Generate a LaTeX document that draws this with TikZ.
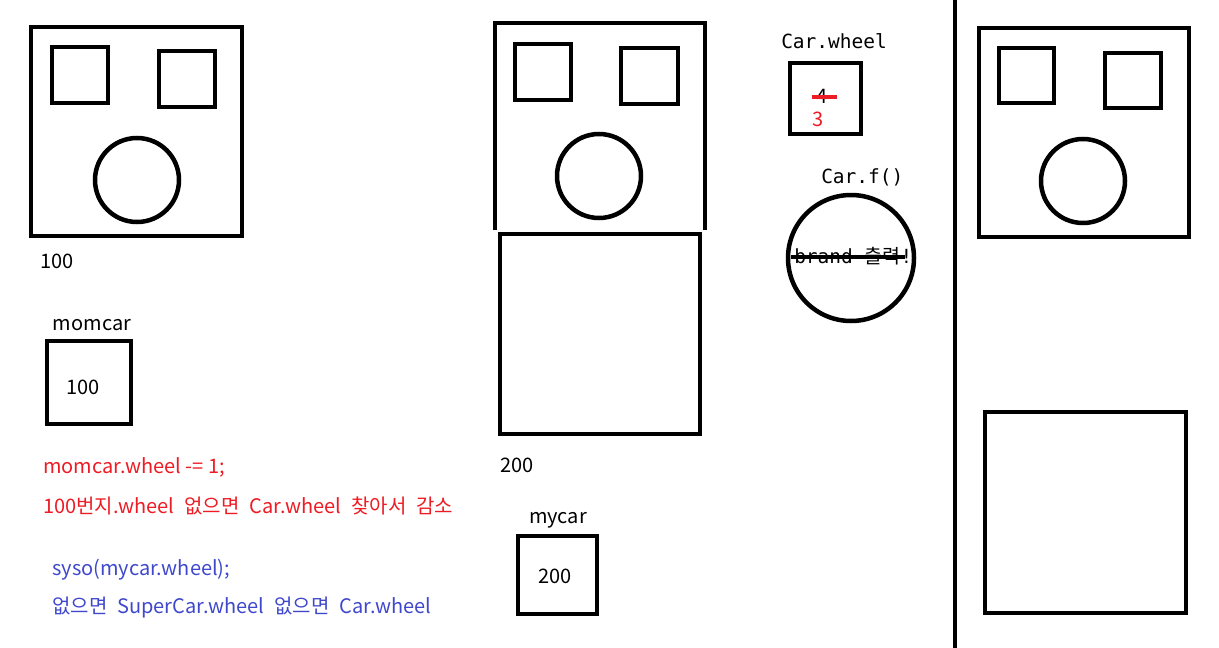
\documentclass[tikz,border=0pt]{standalone}
\usepackage{fontspec}
\setmainfont{Noto Sans CJK KR}
\newfontfamily\monofont{DejaVu Sans Mono}
\definecolor{pred}{RGB}{237,28,36}
\definecolor{pblue}{RGB}{63,72,204}

\begin{document}
\begin{tikzpicture}[x=1pt,y=-1pt,line width=4.5pt,
  every node/.style={inner sep=0pt,font=\fontsize{20}{24}\selectfont},
  mono/.style={font=\monofont\fontsize{19.5}{24}\selectfont},
  wide/.style={font={\fontsize{20}{24}\selectfont\spaceskip=0.5em\relax}}]
\useasboundingbox (0,0) rectangle (1219,648);

% car at 100
\draw (31,27) rectangle (242,236);
\draw (52,47) rectangle (108,103);
\draw (159,51) rectangle (215,107);
\draw (137,180) circle[radius=42pt];
\node[anchor=base west] (adr100) at (38,268) {100};

\node[anchor=base] (momcar) at (92,330) {momcar};
\draw (47,341) rectangle (131,424);
\node[anchor=base] (momval) at (83,394) {100};

\node[anchor=base west,text=pred] (red1) at (41,473) {momcar.wheel -= 1;};
\node[wide,anchor=base west,text=pred] (red2) at (41,513) {100번지.wheel 없으면 Car.wheel 찾아서 감소};
\node[anchor=base west,text=pblue] (blue1) at (50,575) {syso(mycar.wheel);};
\node[wide,anchor=base west,text=pblue] (blue2) at (50,613) {없으면 SuperCar.wheel 없으면 Car.wheel};

% supercar at 200
\draw (495,230) -- (495,23) -- (705,23) -- (705,230);
\draw (515,44) rectangle (571,100);
\draw (621,48) rectangle (678,104);
\draw (599,176) circle[radius=42pt];
\draw (500,234) rectangle (700,434);
\node[anchor=base west] (adr200) at (498,472) {200};

\node[anchor=base] (mycar) at (558,523) {mycar};
\draw (518,536) rectangle (597,614);
\node[anchor=base] (myval) at (555,583) {200};

% static
\node[mono,anchor=base west] (wheel) at (779,48) {Car.wheel};
\draw (790,63) rectangle (861,134);
\node[anchor=base] (four) at (822,103) {4};
\draw[pred] (812,97) -- (837,97);
\node[anchor=base,text=pred] (three) at (818,126) {3};

\node[mono,anchor=base west] (func) at (819,183) {Car.f()};
\draw (851,258) circle[radius=63pt];
\node[mono,anchor=base west] (brand) at (792,263) {brand \normalfont 출력\monofont !};
\draw (791,257) -- (905,257);

\draw (955,0) -- (955,648);

% car again
\draw (979,28) rectangle (1189,237);
\draw (999,48) rectangle (1054,103);
\draw (1105,53) rectangle (1161,108);
\draw (1083,181) circle[radius=42pt];
\draw (985,412) rectangle (1186,613);
\end{tikzpicture}
\end{document}
